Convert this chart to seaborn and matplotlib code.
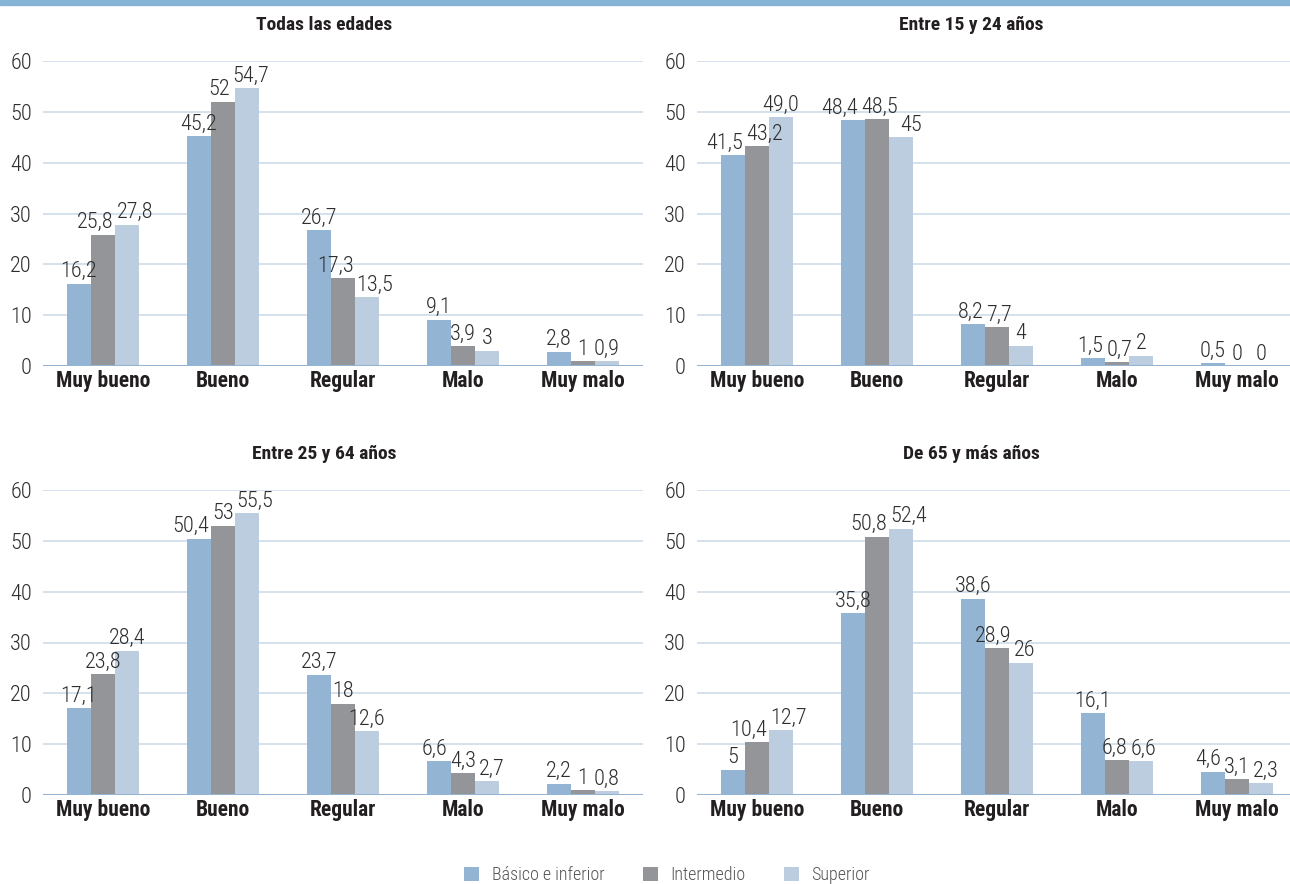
import matplotlib
matplotlib.use("Agg")
import matplotlib.pyplot as plt
from matplotlib.patches import Patch
from matplotlib import font_manager
import pandas as pd
import seaborn as sns

# datos (etiquetas tal como aparecen en el gráfico)
categorias = ["Muy bueno", "Bueno", "Regular", "Malo", "Muy malo"]
niveles = ["Básico e inferior", "Intermedio", "Superior"]
colores = ["#94B4D3", "#939598", "#BCCDE0"]

todas_basico = ["16,2", "45,2", "26,7", "9,1", "2,8"]
todas_inter = ["25,8", "52", "17,3", "3,9", "1"]
todas_sup = ["27,8", "54,7", "13,5", "3", "0,9"]

jov_basico = ["41,5", "48,4", "8,2", "1,5", "0,5"]
jov_inter = ["43,2", "48,5", "7,7", "0,7", "0"]
jov_sup = ["49,0", "45", "4", "2", "0"]

adu_basico = ["17,1", "50,4", "23,7", "6,6", "2,2"]
adu_inter = ["23,8", "53", "18", "4,3", "1"]
adu_sup = ["28,4", "55,5", "12,6", "2,7", "0,8"]

may_basico = ["5", "35,8", "38,6", "16,1", "4,6"]
may_inter = ["10,4", "50,8", "28,9", "6,8", "3,1"]
may_sup = ["12,7", "52,4", "26", "6,6", "2,3"]

paneles = [
    ("Todas las edades", [todas_basico, todas_inter, todas_sup]),
    ("Entre 15 y 24 años", [jov_basico, jov_inter, jov_sup]),
    ("Entre 25 y 64 años", [adu_basico, adu_inter, adu_sup]),
    ("De 65 y más años", [may_basico, may_inter, may_sup]),
]

sns.set_style("white")
disponibles = {f.name for f in font_manager.fontManager.ttflist}
familias = [f for f in ["Roboto Condensed", "Liberation Sans Narrow", "Open Sans Condensed",
                        "Roboto", "DejaVu Sans"] if f in disponibles]
plt.rcParams["font.family"] = familias

W, H = 1290, 884
fig = plt.figure(figsize=(W / 100, H / 100), dpi=100)

# franja azul superior
fig.patches.append(plt.Rectangle((0, 1 - 5 / H), 1, 5 / H, transform=fig.transFigure,
                                 color="#86B4D6", zorder=0))

# posiciones de los paneles en px: (izquierda, y del cero)
pos = [(43, 366), (697, 366), (43, 795), (697, 795)]
centros_titulo = [324, 971, 324, 971]
alto = 305
ancho = 600

grupos_etiquetas = []
for (titulo, series), (x0, y0), xc in zip(paneles, pos, centros_titulo):
    ax = fig.add_axes([x0 / W, 1 - y0 / H, ancho / W, alto / H])
    filas = []
    for nivel, serie in zip(niveles, series):
        for cat, etiqueta in zip(categorias, serie):
            filas.append({"categoria": cat, "nivel": nivel,
                          "valor": float(etiqueta.replace(",", ".")), "etiqueta": etiqueta})
    df = pd.DataFrame(filas)

    sns.barplot(data=df, x="categoria", y="valor", hue="nivel", order=categorias,
                hue_order=niveles, palette=colores, width=0.6, saturation=1,
                linewidth=0, legend=False, ax=ax, zorder=3)

    etiquetas = []
    for cont, serie in zip(ax.containers, series):
        etiquetas.append(ax.bar_label(cont, labels=serie, padding=1, fontsize=16,
                                      fontweight="light", color="#2e2e2e"))
    # agrupar por categoría
    for j in range(len(categorias)):
        grupos_etiquetas.append([e[j] for e in etiquetas])

    ax.set_ylim(0, 60)
    ax.set_xlim(-0.5, 4.5)
    ax.set_yticks(range(0, 61, 10))
    ax.grid(axis="y", color="#C9D8E8", linewidth=1.1, zorder=0)
    ax.axhline(0, color="#94B4D3", linewidth=2.2, zorder=4)
    for s in ax.spines.values():
        s.set_visible(False)
    ax.set_xlabel("")
    ax.set_ylabel("")
    ax.tick_params(axis="y", length=0, pad=8, labelsize=16, labelcolor="#2e2e2e")
    ax.tick_params(axis="x", length=0, pad=3, labelsize=15.5, labelcolor="#231F20")
    for t in ax.get_yticklabels():
        t.set_fontweight("light")
    for t in ax.get_xticklabels():
        t.set_fontweight("bold")

    fig.text(xc / W, 1 - (y0 - alto - 36) / H, titulo, ha="center", va="center",
             fontsize=14, fontweight="bold", color="#231F20")

# separar etiquetas que se pisan dentro de un grupo
fig.canvas.draw()
renderer = fig.canvas.get_renderer()
for _ in range(3):
    for grupo in grupos_etiquetas:
        for a, b in zip(grupo[:-1], grupo[1:]):
            ea = a.get_window_extent(renderer)
            eb = b.get_window_extent(renderer)
            solape_v = min(ea.y1, eb.y1) - max(ea.y0, eb.y0)
            solape_h = ea.x1 + 3 - eb.x0
            if solape_v > 0 and solape_h > 0:
                d = solape_h / 2 * 72 / fig.dpi
                xa, ya = a.xyann
                xb, yb = b.xyann
                a.xyann = (xa - d, ya)
                b.xyann = (xb + d, yb)
    fig.canvas.draw()

handles = [Patch(facecolor=c, edgecolor="none") for c in colores]
fig.legend(handles, niveles, loc="center", bbox_to_anchor=(667 / W, 1 - 875 / H), ncol=3,
           frameon=False, handlelength=0.85, handleheight=0.85,
           columnspacing=2.1, handletextpad=0.7, labelcolor="#555555",
           prop={"weight": "light", "size": 13})

fig.savefig("out.png", dpi=100)
